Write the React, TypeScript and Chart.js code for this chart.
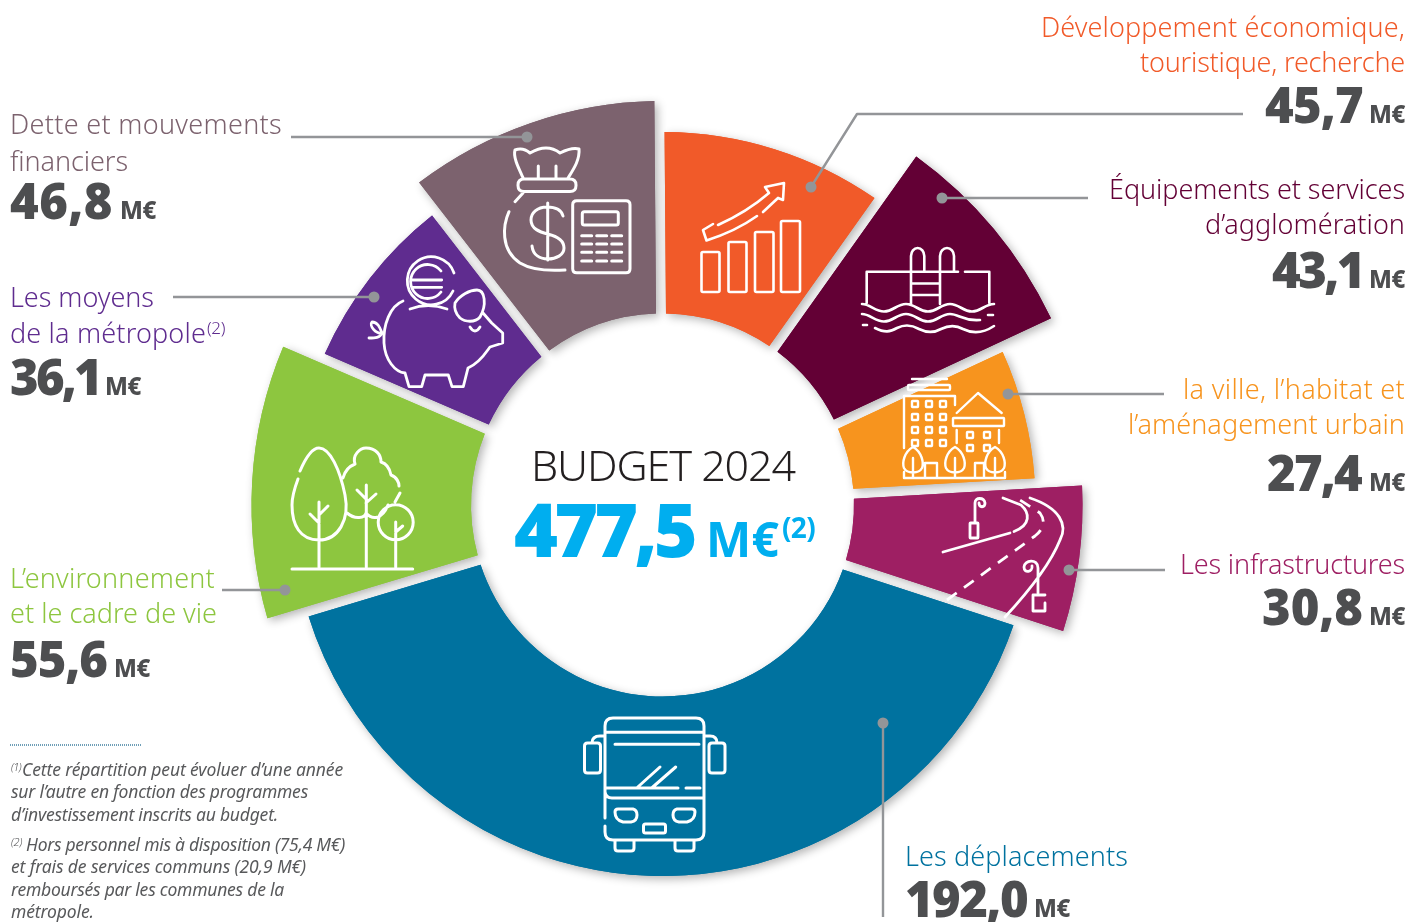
import React, { useEffect, useRef } from "react";
import { Chart, registerables } from "chart.js";

Chart.register(...registerables);

const categories = [
  "Développement économique, touristique, recherche",
  "Équipements et services d’agglomération",
  "la ville, l’habitat et l’aménagement urbain",
  "Les infrastructures",
  "Les déplacements",
  "L’environnement et le cadre de vie",
  "Les moyens de la métropole",
  "Dette et mouvements financiers",
];
// Amounts printed on the graphic (M€).
const values = [45.7, 43.1, 27.4, 30.8, 192.0, 55.6, 36.1, 46.8];
// Sweep of each slice (degrees): the graphic's slices are not strictly proportional to the amounts.
const sliceSweeps = [35.85, 29.6, 21.65, 21.5, 145.15, 40.05, 28.9, 37.3];
const sliceColors = ["#F15A29", "#630035", "#F7941E", "#9E1F63", "#00729F", "#8DC63F", "#5F2C8F", "#7C626E"];
const outerRadii = [373, 431, 373, 420, 371, 411, 370, 404];
const holeRadius = 191.5;
const halfGap = 5;
const centerX = 662.5;
const centerY = 505;

const FAMILY = '"Noto Sans"';
const VALUE_GREY = "#4D4E50";
const LINE_GREY = "#939598";

type LabelLine = { t: string; w: number; y: number };
type Label = { i: number; side: "l" | "r"; x: number; lines: LabelLine[]; vy: number; vx: number; vw: number; ux: number; color: string; size: number };
const labels: Label[] = [
  { i: 0, side: "r", x: 1405, color: "#F15A29", size: 27, lines: [{ t: "Développement économique,", w: 364, y: 37 }, { t: "touristique, recherche", w: 265, y: 72 }], vy: 123, vx: 1265, vw: 98, ux: 1369 },
  { i: 1, side: "r", x: 1405, color: "#630035", size: 27, lines: [{ t: "Équipements et services", w: 296, y: 199 }, { t: "d’agglomération", w: 200, y: 234 }], vy: 288, vx: 1272, vw: 91, ux: 1369 },
  { i: 2, side: "r", x: 1405, color: "#F7941E", size: 27, lines: [{ t: "la ville, l’habitat et", w: 222, y: 399 }, { t: "l’aménagement urbain", w: 277, y: 434 }], vy: 491, vx: 1267, vw: 94, ux: 1369 },
  { i: 3, side: "r", x: 1405, color: "#9E1F63", size: 27, lines: [{ t: "Les infrastructures", w: 225, y: 574 }], vy: 625, vx: 1262, vw: 101, ux: 1369 },
  { i: 4, side: "l", x: 905, color: "#00729F", size: 27, lines: [{ t: "Les déplacements", w: 223, y: 866 }], vy: 917, vx: 905, vw: 122, ux: 1034 },
  { i: 5, side: "l", x: 10, color: "#8DC63F", size: 27, lines: [{ t: "L’environnement", w: 205, y: 588 }, { t: "et le cadre de vie", w: 207, y: 623 }], vy: 677, vx: 10, vw: 97, ux: 114 },
  { i: 6, side: "l", x: 10, color: "#5F2C8F", size: 27, lines: [{ t: "Les moyens", w: 144, y: 307 }, { t: "de la métropole", w: 196, y: 343 }], vy: 395, vx: 10, vw: 90, ux: 105 },
  { i: 7, side: "l", x: 10, color: "#7C626E", size: 27, lines: [{ t: "Dette et mouvements", w: 272, y: 134 }, { t: "financiers", w: 118, y: 171 }], vy: 219, vx: 10, vw: 103, ux: 120 },
];

const footnotes = [
  { t: "Cette répartition peut évoluer d’une année", x: 22, y: 776, w: 321 },
  { t: "sur l’autre en fonction des programmes", x: 11, y: 798, w: 297 },
  { t: "d’investissement inscrits au budget.", x: 11, y: 821, w: 267 },
  { t: "Hors personnel mis à disposition (75,4 M€)", x: 26, y: 851, w: 319 },
  { t: "et frais de services communs (20,9 M€)", x: 11, y: 873, w: 295 },
  { t: "remboursés par les communes de la", x: 11, y: 896, w: 273 },
  { t: "métropole.", x: 11, y: 918, w: 83 },
];

const leaders = [
  { pts: [[1243, 114], [857, 114], [811, 187]] },
  { pts: [[1088, 198], [942, 198]] },
  { pts: [[1164, 394], [1008, 394]] },
  { pts: [[1165, 570], [1069, 570]] },
  { pts: [[883, 917], [883, 723]] },
  { pts: [[222, 590], [285, 590]] },
  { pts: [[173, 297], [374, 297]] },
  { pts: [[291, 137], [527, 137]] },
];

const rr = (x: number, y: number, w: number, h: number, r: number) =>
  `M${x + r} ${y}H${x + w - r}Q${x + w} ${y} ${x + w} ${y + r}V${y + h - r}Q${x + w} ${y + h} ${x + w - r} ${y + h}H${x + r}Q${x} ${y + h} ${x} ${y + h - r}V${y + r}Q${x} ${y} ${x + r} ${y}Z`;
const seg = (a: number, b: number, c: number, d: number) => `M${a} ${b}L${c} ${d}`;
const circle = (x: number, y: number, r: number) => `M${x + r} ${y}A${r} ${r} 0 1 1 ${x - r} ${y}A${r} ${r} 0 1 1 ${x + r} ${y}Z`;
const many = (items: string[]) => items.join("");

const keyRows = [235.7, 244, 252.3, 261];
const keyCols = [581.7, 596.7, 611.7];
const winCols = [915, 929, 943];
const winRows = [404, 417, 430, 443];

const iconChart = many([
  rr(701.5, 252, 18, 40, 1.5), rr(728.5, 242, 18, 50, 1.5), rr(755, 232, 18.5, 60, 1.5), rr(781, 221, 19, 71, 1.5),
  "M713 224L703 230L706.5 240.5Q736 231 757 216",
  "M718 225Q747 212 769 193L765 187L784 183L783 200L778 198",
  "M763 212L778 198",
]);
const iconPool = many([
  "M866.7 303V271.7H958", "M965 271.7H989.3V303",
  "M911 304V256A6.6 8 0 0 1 924.3 256V271", "M940 304V256A7 8 0 0 1 954 256V271",
  seg(911, 283.5, 940, 283.5), seg(911, 295, 940, 295),
  "M862 304C870 304 875 311.5 884 311.5C893 311.5 897 304 906 304C915 304 919 311.5 928 311.5C937 311.5 941 304 950 304C959 304 963 311.5 972 311.5C981 311.5 985 304 994 304",
  "M862 314C870 314 875 321.5 884 321.5C893 321.5 897 314 906 314C915 314 919 321.5 928 321.5C937 321.5 941 314 950 314C959 314 963 321.5 980 320",
  seg(988, 315, 993, 315), seg(863, 325, 867, 325),
  "M875 328C885 333 890 332 897 328C905 324 912 325 919 329C927 333 934 333 941 329C949 325 956 325 963 329C971 333 982 334 994 326",
]);
const iconCity = many([
  seg(912, 379, 947, 379), rr(908, 385, 42, 5, 1), "M904 448V396H955V405",
  ...winCols.flatMap((x) => winRows.map((y) => rr(x - 3, y - 3, 6, 6, 0.5))),
  "M956.7 413L978 393L1001.7 413", rr(953, 418, 51, 8, 0.5), seg(956.7, 430, 956.7, 443), seg(999, 430, 999, 443),
  rr(967, 432, 6, 6, 0.5), rr(984, 432, 6, 6, 0.5), rr(967, 445, 6, 6, 0.5), rr(984, 445, 6, 6, 0.5),
  "M904 472V478H1005V472", "M925 478V463H937V478", "M975 478V463H984V478",
  "M913 447C904 452 902 463 904 468C907 474 919 474 922 468C924 463 922 452 913 447Z", seg(913, 458, 913, 478),
  "M955 447C946 452 944 463 946 468C949 474 961 474 964 468C966 463 964 452 955 447Z", seg(955, 458, 955, 478),
  "M995 447C986 452 984 463 986 468C989 474 1001 474 1004 468C1006 463 1004 452 995 447Z", seg(995, 458, 995, 478),
]);
const iconRoad = many([
  rr(970, 523, 8, 15, 0.5), "M975 523V503C975 497 984 497 985 503C985 508 979 508 979 503",
  "M943 552L1010 533", "M1014 531.5C1031 525 1030 513 1021 505L1003 498",
  "M1030 498C1060 508 1068 525 1060 540C1050 565 1030 590 1005 617",
  "M1038 593V568C1038 558 1024 560 1024 567C1024 574 1033 572 1032 566", "M1045 595H1033V611H1045V603",
]);
const iconRoadDash = "M947 600L1035 536C1045 528 1045 520 1040 513L1017 498";
const iconBus = many([
  "M605 818V726Q605 718 613 718H696Q704 718 704 726V832Q704 840 696 840H613Q605 840 605 832V826",
  seg(605, 732.3, 704, 732.3), seg(615, 744.3, 699, 744.3), seg(605, 788, 678, 788), seg(686, 788, 700, 788),
  "M605 792Q606 798 612 798H704", seg(636.7, 788, 660, 767), seg(651.7, 788, 675.7, 767),
  "M618 809H633Q637 810 637 815Q637 821 631 822H623Q615 820 615 812Q615 809 618 809Z",
  "M692 809H677Q673 810 673 815Q673 821 679 822H687Q695 820 695 812Q695 809 692 809Z",
  rr(643.5, 824, 22, 9, 2), "M615 841V848Q615 851 618 851H631Q634 851 634 848V841", "M675 841V848Q675 851 678 851H691Q694 851 694 848V841",
  rr(584.5, 743, 16, 30, 3), rr(709, 743, 16, 30, 3), "M592 743Q592 736 600 736H605", "M704 736H710Q717 736 717 743",
]);
const iconTrees = many([
  "M300 471C306 457 312 448 319 448C330 448 340 470 345 495C350 520 338 540 319 540C300 540 292 525 292 505C292 495 295 487 298 479",
  seg(319, 502, 319, 567), seg(310, 514, 319, 523), seg(328, 506, 319, 515),
  "M343 478C345 470 350 466 355 464C352 455 360 448 366 448C376 448 381 455 381 462C388 464 390 470 391 475C397 477 399 483 399 486",
  seg(400, 493, 395, 502), "M347 513C355 520 365 518 366 513C372 520 382 520 388 505",
  seg(366.3, 485, 366.3, 567), seg(357, 490, 366, 499), seg(376, 494, 366, 503),
  circle(395.7, 522.3, 17.5), seg(395.7, 522, 395.7, 567), seg(402.7, 526, 395.7, 532),
  seg(292, 569, 412.7, 569),
]);
const iconPig = many([
  "M454 273A24 24 0 1 0 453 291", "M441 271A17 17 0 1 0 441 292", seg(411.7, 280, 441.7, 280), seg(411.7, 287.3, 441.7, 287.3),
  "M410 309Q428 302 447 309",
  "M403 301C390 306 383 325 384 343C385 360 395 372 405 373L409 386.7H421.7L425 375H448.3L452 386.7H463.3L468 368C480 363 487 351 490 347L502.7 343V333L491.7 323L483 313",
  "M455 303C460 295 470 290 477 290C485 290 487 305 480 317C475 323 465 322 460 318C456 314 454 308 455 303Z",
  "M384 333C375 335 369 325 372 322C378 322 380 328 382 333C380 338 375 338 369 338", "M470 327Q475 335 480 327",
]);
const iconBag = many([
  rr(518, 179, 58, 12.5, 6),
  "M523.3 178.3C518 167 513 157 515 150Q523 147 530 153Q547 143 560 153Q572 147 579 149C580 160 573 170 568 178",
  seg(538.3, 166, 538.3, 178), seg(556, 166, 556, 178), seg(523, 193, 515, 201.7),
  "M509 211.7C503 225 500 250 520 263Q535 272 565 270", seg(547.7, 203, 547.7, 260),
  "M563 216C561 208 553 207 547 207C537 207 531 213 531 220C531 229 540 232 547.7 234C556 236 564 240 564 248C564 255 556 259 548 259C540 259 533 255 532 246",
  rr(572.7, 200.7, 57.3, 72, 4), rr(582.3, 211.7, 36, 13.3, 2),
  ...keyRows.flatMap((y) => keyCols.map((x) => seg(x, y, x + 10, y))),
]);
const icons = [
  { d: iconChart, w: 2.6 }, { d: iconPool, w: 2.6 }, { d: iconCity, w: 2.4 }, { d: iconRoad, w: 2.8 },
  { d: iconBus, w: 3 }, { d: iconTrees, w: 3 }, { d: iconPig, w: 2.8 }, { d: iconBag, w: 3 },
];

function tracePath(ctx: CanvasRenderingContext2D, a: any) {
  const outerPad = Math.asin(halfGap / a.outerRadius);
  const innerPad = Math.asin(halfGap / a.innerRadius);
  ctx.beginPath();
  ctx.arc(a.x, a.y, a.outerRadius, a.startAngle + outerPad, a.endAngle - outerPad);
  ctx.arc(a.x, a.y, a.innerRadius, a.endAngle - innerPad, a.startAngle + innerPad, true);
  ctx.closePath();
}

function fitText(ctx: any, text: string, font: string, color: string, x: number, y: number, width?: number) {
  ctx.font = font;
  ctx.fillStyle = color;
  ctx.textAlign = "left";
  ctx.textBaseline = "alphabetic";
  ctx.letterSpacing = "0px";
  if (width) {
    const measured = ctx.measureText(text).width;
    ctx.letterSpacing = `${(width - measured) / text.length}px`;
  }
  ctx.fillText(text, x, y);
  ctx.letterSpacing = "0px";
}

const sectorPlugin = {
  id: "sectors",
  afterDatasetsUpdate(chart: any) {
    chart.getDatasetMeta(0).data.forEach((arc: any, i: number) => {
      arc.outerRadius = outerRadii[i];
      arc.innerRadius = holeRadius;
      arc.draw = (ctx: CanvasRenderingContext2D) => {
        ctx.save();
        ctx.fillStyle = sliceColors[i];
        tracePath(ctx, arc);
        ctx.fill();
        ctx.restore();
      };
    });
  },
  beforeDatasetsDraw(chart: any) {
    const ctx = chart.ctx;
    ctx.save();
    ctx.shadowColor = "rgba(0,0,0,0.3)";
    ctx.shadowBlur = 10;
    ctx.shadowOffsetX = 3;
    ctx.shadowOffsetY = 3;
    chart.getDatasetMeta(0).data.forEach((arc: any, i: number) => {
      ctx.fillStyle = sliceColors[i];
      tracePath(ctx, arc);
      ctx.fill();
    });
    ctx.restore();
  },
  afterDatasetsDraw(chart: any) {
    const ctx = chart.ctx;
    ctx.save();
    ctx.lineCap = "round";
    ctx.lineJoin = "round";
    ctx.strokeStyle = "#FFFFFF";
    icons.forEach((ic) => {
      ctx.lineWidth = ic.w;
      ctx.stroke(new Path2D(ic.d));
    });
    ctx.lineCap = "butt";
    ctx.lineWidth = 2.8;
    ctx.setLineDash([12, 9]);
    ctx.stroke(new Path2D(iconRoadDash));
    ctx.setLineDash([]);

    ctx.strokeStyle = LINE_GREY;
    ctx.fillStyle = LINE_GREY;
    ctx.lineWidth = 2.4;
    leaders.forEach((l) => {
      ctx.beginPath();
      l.pts.forEach((p, k) => (k ? ctx.lineTo(p[0], p[1]) : ctx.moveTo(p[0], p[1])));
      ctx.stroke();
      const end = l.pts[l.pts.length - 1];
      ctx.beginPath();
      ctx.arc(end[0], end[1], 5.5, 0, Math.PI * 2);
      ctx.fill();
    });

    labels.forEach((lb) => {
      lb.lines.forEach((ln) => {
        const x = lb.side === "r" ? lb.x - ln.w : lb.x;
        fitText(ctx, ln.t, `300 ${lb.size}px ${FAMILY}`, lb.color, x, ln.y, ln.w);
      });
      const text = values[lb.i].toFixed(1).replace(".", ",");
      fitText(ctx, text, `900 49px ${FAMILY}`, VALUE_GREY, lb.vx, lb.vy, lb.vw);
      fitText(ctx, "M€", `800 24px ${FAMILY}`, VALUE_GREY, lb.ux, lb.vy, 36);
    });
    fitText(ctx, "(2)", `300 17px ${FAMILY}`, "#5F2C8F", 207, 334, 18);

    const total = values.reduce((s, v) => s + v, 0);
    fitText(ctx, "BUDGET 2024", `300 43px ${FAMILY}`, "#231F20", 531, 481, 264);
    fitText(ctx, total.toFixed(1).replace(".", ","), `900 75px ${FAMILY}`, "#00AEEF", 514, 557, 180);
    fitText(ctx, "M€", `700 48px ${FAMILY}`, "#00AEEF", 706, 557, 73);
    fitText(ctx, "(2)", `700 28px ${FAMILY}`, "#00AEEF", 782, 538, 33);

    ctx.strokeStyle = "#3F7FA0";
    ctx.lineWidth = 1.5;
    ctx.setLineDash([1, 1]);
    ctx.beginPath();
    ctx.moveTo(10, 745);
    ctx.lineTo(141, 745);
    ctx.stroke();
    ctx.setLineDash([]);

    fitText(ctx, "(1)", `italic 300 11px ${FAMILY}`, "#58595B", 11, 771, 10);
    fitText(ctx, "(2)", `italic 300 11px ${FAMILY}`, "#58595B", 11, 846, 11);
    footnotes.forEach((f) => fitText(ctx, f.t, `italic 400 17.5px ${FAMILY}`, "#58595B", f.x, f.y, f.w));
    ctx.restore();
  },
};

export default function App() {
  const ref = useRef<HTMLCanvasElement>(null);
  useEffect(() => {
    document.body.style.background = "#FFFFFF";
    const chart = new Chart(ref.current as HTMLCanvasElement, {
      type: "doughnut",
      data: {
        labels: categories,
        datasets: [{ data: sliceSweeps, backgroundColor: sliceColors, borderWidth: 0 }],
      },
      options: {
        responsive: false,
        animation: false,
        rotation: -0.45,
        circumference: 360,
        layout: { padding: { left: 0, right: 1412 - 2 * centerX, top: 2 * centerY - 922, bottom: 0 } },
        plugins: { legend: { display: false }, tooltip: { enabled: false } },
      },
      plugins: [sectorPlugin],
    } as any);
    return () => chart.destroy();
  }, []);
  return (
    <div style={{ position: "fixed", left: 0, top: 0, width: 1412, height: 922, background: "#FFFFFF" }}>
      <canvas ref={ref} width={1412} height={922} style={{ display: "block" }} />
    </div>
  );
}
